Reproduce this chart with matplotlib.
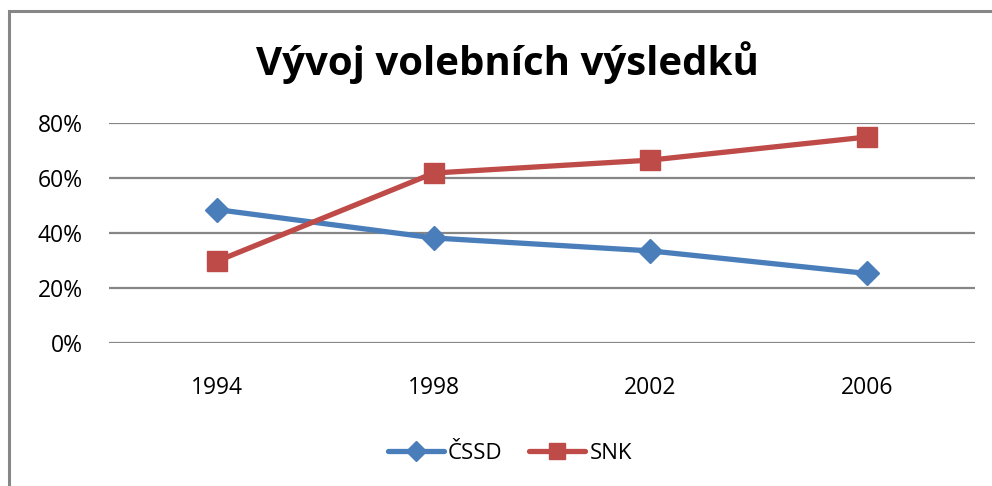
import matplotlib
matplotlib.use("Agg")
import matplotlib.pyplot as plt
from matplotlib.patches import Rectangle
from matplotlib.ticker import PercentFormatter

# values
years = ["1994", "1998", "2002", "2006"]
cssd = [0.485, 0.382, 0.335, 0.253]
snk = [0.298, 0.618, 0.665, 0.749]
y_ticks = [0.0, 0.2, 0.4, 0.6, 0.8]

blue = "#4A7EBB"
red = "#BE4B48"
grid_grey = "#868686"

plt.rcParams["font.family"] = ["Open Sans", "DejaVu Sans"]

fig = plt.figure(figsize=(9.92, 4.86), dpi=100)
ax = fig.add_axes([109 / 992, 1 - 343 / 486, 866 / 992, 220 / 486])

# outer chart border (only top and left edge visible in the crop)
fig.patches.append(Rectangle((8.5 / 992, -0.1), 1.2, 1 - 11 / 486 + 0.1,
                             transform=fig.transFigure, fill=False,
                             edgecolor=grid_grey, linewidth=2.2))

x = range(len(years))
ax.plot(x, cssd, color=blue, linewidth=3.8, marker="D", markersize=12,
        label="ČSSD", solid_capstyle="round")
ax.plot(x, snk, color=red, linewidth=3.8, marker="s", markersize=14,
        label="SNK", solid_capstyle="round")

ax.set_xlim(-0.5, len(years) - 0.5)
ax.set_ylim(0, 0.8)
ax.set_xticks(list(x))
ax.set_xticklabels(years)
ax.set_yticks(y_ticks)
ax.yaxis.set_major_formatter(PercentFormatter(1.0, decimals=0))
ax.tick_params(axis="both", length=0, labelsize=16.5)
ax.tick_params(axis="x", pad=24)
ax.tick_params(axis="y", pad=19)
ax.grid(axis="y", color=grid_grey, linewidth=1.6)
ax.set_axisbelow(True)
for s in ax.spines.values():
    s.set_visible(False)

fig.text(507 / 992, 1 - 63 / 486, "Vývoj volebních výsledků", ha="center",
         va="center", fontsize=29, fontweight="bold")

fig.legend(loc="center", bbox_to_anchor=(510 / 992, 1 - 453 / 486), ncol=2,
           frameon=False, fontsize=16, handlelength=2.5, handletextpad=0.2,
           columnspacing=1.2, markerscale=0.85)

fig.savefig("out.png", dpi=100)
